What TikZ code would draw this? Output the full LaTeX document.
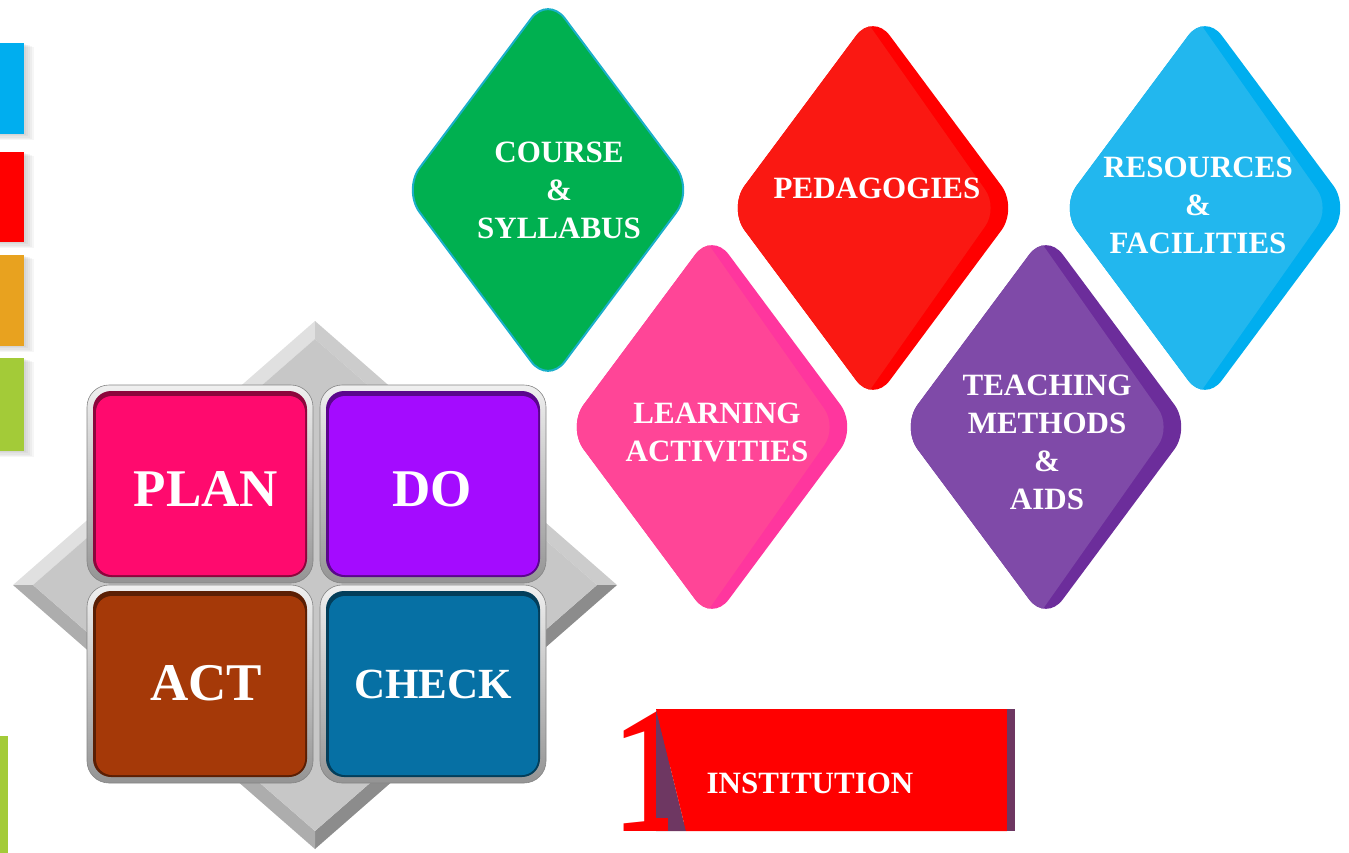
\documentclass[tikz,border=0pt]{standalone}
\usepackage{fontspec}
\setmainfont{Liberation Serif}

% palette
\definecolor{barblue}{HTML}{00AEEF}
\definecolor{barred}{HTML}{FF0000}
\definecolor{barorange}{HTML}{E8A21F}
\definecolor{bargreen}{HTML}{A3CB38}
\definecolor{gemgreen}{HTML}{00B050}
\definecolor{gemgreenline}{HTML}{1AAFC9}
\definecolor{gemred}{HTML}{FA1812}
\definecolor{gemredstripe}{HTML}{FF0000}
\definecolor{gemblue}{HTML}{22B7EE}
\definecolor{gembluestripe}{HTML}{00AEEF}
\definecolor{gempink}{HTML}{FF4597}
\definecolor{gempinkstripe}{HTML}{FF369E}
\definecolor{gempurple}{HTML}{7F4AA8}
\definecolor{gempurplestripe}{HTML}{6C2D9B}
\definecolor{plancol}{HTML}{FF0A6E}
\definecolor{docol}{HTML}{A40BFF}
\definecolor{actcol}{HTML}{A53908}
\definecolor{checkcol}{HTML}{0670A4}
\definecolor{bannerred}{HTML}{FF0000}
\definecolor{bannerplum}{HTML}{6E3762}

\tikzset{
  gemtext/.style={text=white, font=\bfseries\fontsize{31}{38}\selectfont,
    align=center, inner sep=0pt},
  pdcatext/.style={text=white, font=\bfseries\fontsize{53}{60}\selectfont,
    inner sep=0pt},
  tileframe/.style={rounded corners=22pt, top color=white!94!black,
    bottom color=white!58!black, draw=white!52!black, line width=0.6pt},
  bar/.style={inner sep=0pt, minimum width=24pt},
  gemround/.style={rounded corners=28pt},
}

% rounded rhombus with a darker band along its right edges
\newcommand\gemdraw[4]{%
  \begin{scope}[shift={(#1,#2)}]
    \fill[#4, gemround]
      (0,-195) -- (145,0) -- (0,195) -- (-145,0) -- cycle;
    \begin{scope}
      \clip[gemround]
        (0,-195) -- (145,0) -- (0,195) -- (-145,0) -- cycle;
      \fill[#3, rounded corners=22pt]
        (-300,-260) -- (-58,-260) -- (125,0) -- (-58,260) -- (-300,260) -- cycle;
    \end{scope}
  \end{scope}}

% one bevelled PDCA tile, 226 x 198, top-left corner at (#1,#2)
\newcommand\pdcatile[3]{%
  \begin{scope}[shift={(#1,#2)}]
    \draw[tileframe] (0,0) rectangle (226,198);
    \fill[#3!55!black, rounded corners=18pt] (6,6) rectangle (220,192);
    \fill[#3, rounded corners=16pt] (9,11) rectangle (218,190);
  \end{scope}}

% soft shadow behind a side bar
\newcommand\barshadow[2]{%
  \foreach \s in {2,4,6,8,10}
    \fill[black, opacity=0.035] (0,#1+\s*0.4) rectangle (24+\s,#2+\s*0.6);}

\begin{document}
\begin{tikzpicture}[x=1pt, y=-1pt]
\useasboundingbox (0,0) rectangle (1349,853);

% ---- side bars ----
\barshadow{43}{134}
\barshadow{152}{242}
\barshadow{255}{346}
\barshadow{358}{451}
\node[bar, fill=barblue,   minimum height=91pt, anchor=north west] (b1) at (0,43) {};
\node[bar, fill=barred,    minimum height=90pt, anchor=north west] (b2) at (0,152) {};
\node[bar, fill=barorange, minimum height=91pt, anchor=north west] (b3) at (0,255) {};
\node[bar, fill=bargreen,  minimum height=93pt, anchor=north west] (b4) at (0,358) {};
\node[inner sep=0pt, minimum width=8pt, minimum height=117pt, fill=bargreen,
      anchor=north west] (b5) at (0,736) {};

% ---- diamonds ----
\fill[gemgreen, draw=gemgreenline, line width=2pt, gemround]
  (548,-4) -- (693,190) -- (548,384) -- (403,190) -- cycle;
\gemdraw{873}{208}{gemred}{gemredstripe}
\gemdraw{1205}{208}{gemblue}{gembluestripe}
\gemdraw{712}{427}{gempink}{gempinkstripe}
\gemdraw{1046}{427}{gempurple}{gempurplestripe}

\node[gemtext] (course) at (559,190) {COURSE\\\&\\SYLLABUS};
\node[gemtext] (peda)   at (877,188) {PEDAGOGIES};
\node[gemtext] (res)    at (1198,205) {RESOURCES\\\&\\FACILITIES};
\node[gemtext] (learn)  at (717,432) {LEARNING\\ACTIVITIES};
\node[gemtext] (teach)  at (1047,442) {TEACHING\\METHODS\\\&\\AIDS};

% ---- PDCA block: bevelled grey rhombus ----
\fill[white!88!black] (315,321) -- (13,585) -- (33,585) -- (315,339) -- cycle;
\fill[white!80!black] (315,321) -- (617,585) -- (597,585) -- (315,339) -- cycle;
\fill[white!55!black] (617,585) -- (315,849) -- (315,831) -- (597,585) -- cycle;
\fill[white!68!black] (315,849) -- (13,585) -- (33,585) -- (315,831) -- cycle;
\fill[white!78!black] (315,339) -- (597,585) -- (315,831) -- (33,585) -- cycle;

\pdcatile{87}{385}{plancol}
\pdcatile{320}{385}{docol}
\pdcatile{87}{585}{actcol}
\pdcatile{320}{585}{checkcol}

\node[pdcatext] (plan)  at (206,489) {PLAN};
\node[pdcatext] (do)    at (432,489) {DO};
\node[pdcatext] (act)   at (206,683) {ACT};
\node[pdcatext, font=\bfseries\fontsize{43}{50}\selectfont] (check) at (433,684) {CHECK};

% ---- institution banner ----
\node[text=bannerred, font=\bfseries\fontsize{182}{182}\selectfont, inner sep=0pt,
      anchor=base west] (one) at (609,831) {1};
\fill[bannerplum] (656,709) -- (686,831) -- (656,831) -- cycle;
\fill[bannerred] (656,818) rectangle (668,831);
\fill[bannerred] (656,709) -- (1007,709) -- (1007,831) -- (686,831) -- cycle;
\fill[bannerplum] (1007,709) rectangle (1015,831);
\node[gemtext] (inst) at (810,783) {INSTITUTION};
\end{tikzpicture}
\end{document}
